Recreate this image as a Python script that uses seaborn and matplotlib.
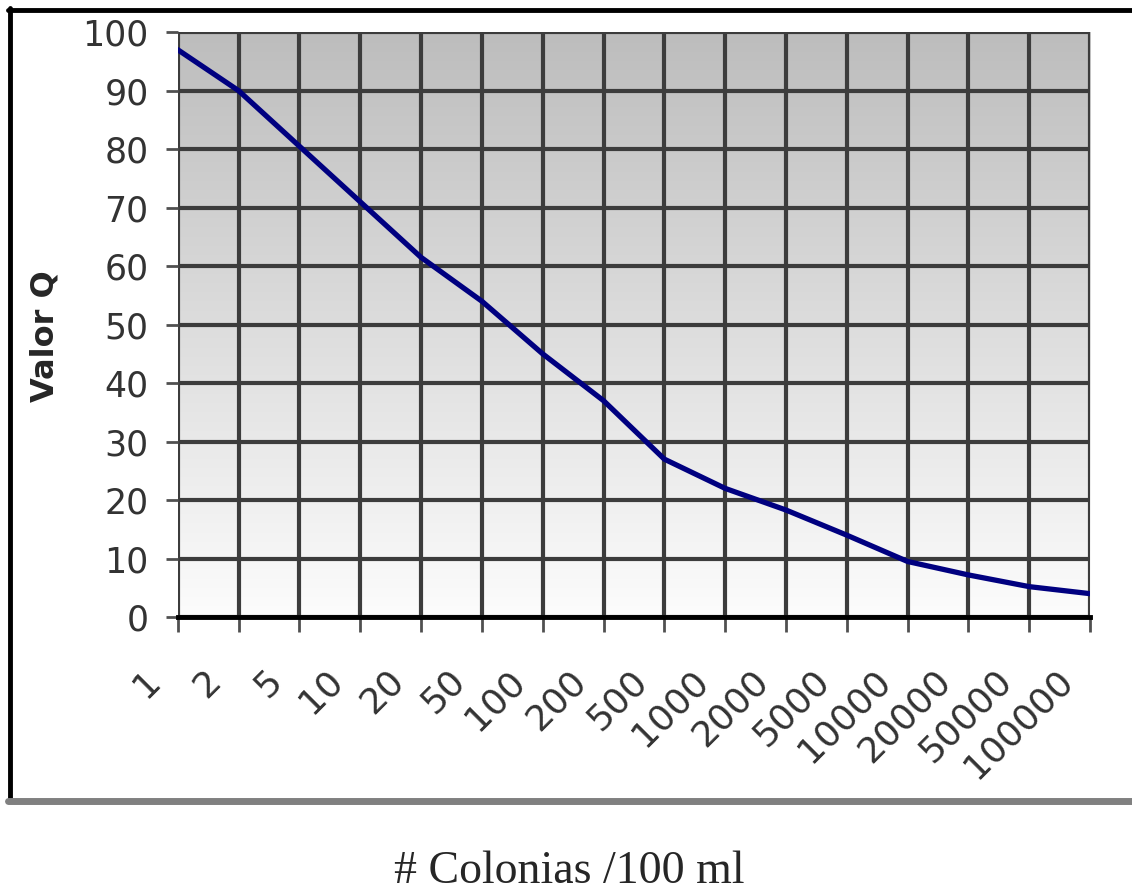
import numpy as np
import pandas as pd
import matplotlib
matplotlib.use('Agg')
import matplotlib.pyplot as plt
import matplotlib.transforms as mtransforms
from matplotlib.colors import LinearSegmentedColormap
from matplotlib.lines import Line2D
import seaborn as sns

# Datos (valor Q segun colonias /100 ml)
colonias = ['1', '2', '5', '10', '20', '50', '100', '200', '500', '1000',
            '2000', '5000', '10000', '20000', '50000', '100000']
valor_q = [97, 90, 80.5, 71, 61.5, 54, 45, 37, 27, 22, 18.3, 14, 9.5, 7.2, 5.2, 4]
y_ticks = [0, 10, 20, 30, 40, 50, 60, 70, 80, 90, 100]

df = pd.DataFrame({'colonias': colonias, 'valor_q': valor_q})

sns.set_style('white')
plt.rcParams['font.family'] = ['DejaVu Sans']

fig = plt.figure(figsize=(11.32, 8.93), dpi=100)
ax = fig.add_axes([0.157, 0.309, 0.806, 0.655])

# Fondo degradado gris (arriba) -> blanco (abajo)
gradiente = np.linspace(0, 1, 256).reshape(-1, 1)
cmap_fondo = LinearSegmentedColormap.from_list('fondo', ['#bdbdbd', '#fcfcfc'])
ax.imshow(gradiente, cmap=cmap_fondo, origin='upper',
          extent=[0, len(colonias) - 1, 0, 100], aspect='auto', zorder=0)

sns.lineplot(data=df, x='colonias', y='valor_q', sort=False, color='#000080',
             linewidth=3.8, ax=ax, zorder=5)

ax.set_xlim(0, len(colonias) - 1)
ax.set_ylim(0, 100)
ax.set_yticks(y_ticks)
ax.set_xticks(range(len(colonias)))
ax.set_xticklabels(colonias, rotation=45, ha='right', va='center', rotation_mode='anchor')

ax.grid(True, color='#3c3c3c', linewidth=3)
for linea in ax.get_xgridlines() + ax.get_ygridlines():
    linea.set_zorder(2)

for lado in ['top', 'right', 'left']:
    ax.spines[lado].set_visible(False)
ax.spines['bottom'].set_color('black')
ax.spines['bottom'].set_linewidth(3.5)
ax.spines['bottom'].set_zorder(6)

ax.tick_params(axis='x', length=11, width=2, color='#505050', labelsize=26,
               labelcolor='#333333', pad=31, direction='out', bottom=True)
ax.tick_params(axis='y', length=9, width=2, color='#505050', labelsize=25,
               labelcolor='#333333', pad=12, left=True)

# desplazar las etiquetas del eje x hacia la izquierda
desplazamiento = mtransforms.ScaledTranslation(-23 / 100, 0, fig.dpi_scale_trans)
for etiqueta in ax.get_xticklabels():
    etiqueta.set_transform(etiqueta.get_transform() + desplazamiento)

ax.set_xlabel('')
ax.set_ylabel('Valor Q', fontsize=23, fontweight='bold')
ax.yaxis.set_label_coords(-0.128, 0.48)

# Marco alrededor del grafico: negro arriba e izquierda, gris abajo
def px(x, y):
    return x / 1132, 1 - y / 893

for (x0, y0), (x1, y1), color, ancho in [
        (px(8, 10), px(1140, 10), 'black', 3.5),
        (px(10, 8), px(10, 800), 'black', 3.5),
        (px(8, 801), px(1140, 801), '#808080', 5)]:
    fig.add_artist(Line2D([x0, x1], [y0, y1], transform=fig.transFigure,
                          color=color, linewidth=ancho, clip_on=False))

fig.text(569 / 1132, 1 - 872 / 893, '# Colonias /100 ml', ha='center', va='center',
         fontsize=33, family=['Liberation Serif', 'DejaVu Serif'])

plt.savefig('out.png', dpi=100)
